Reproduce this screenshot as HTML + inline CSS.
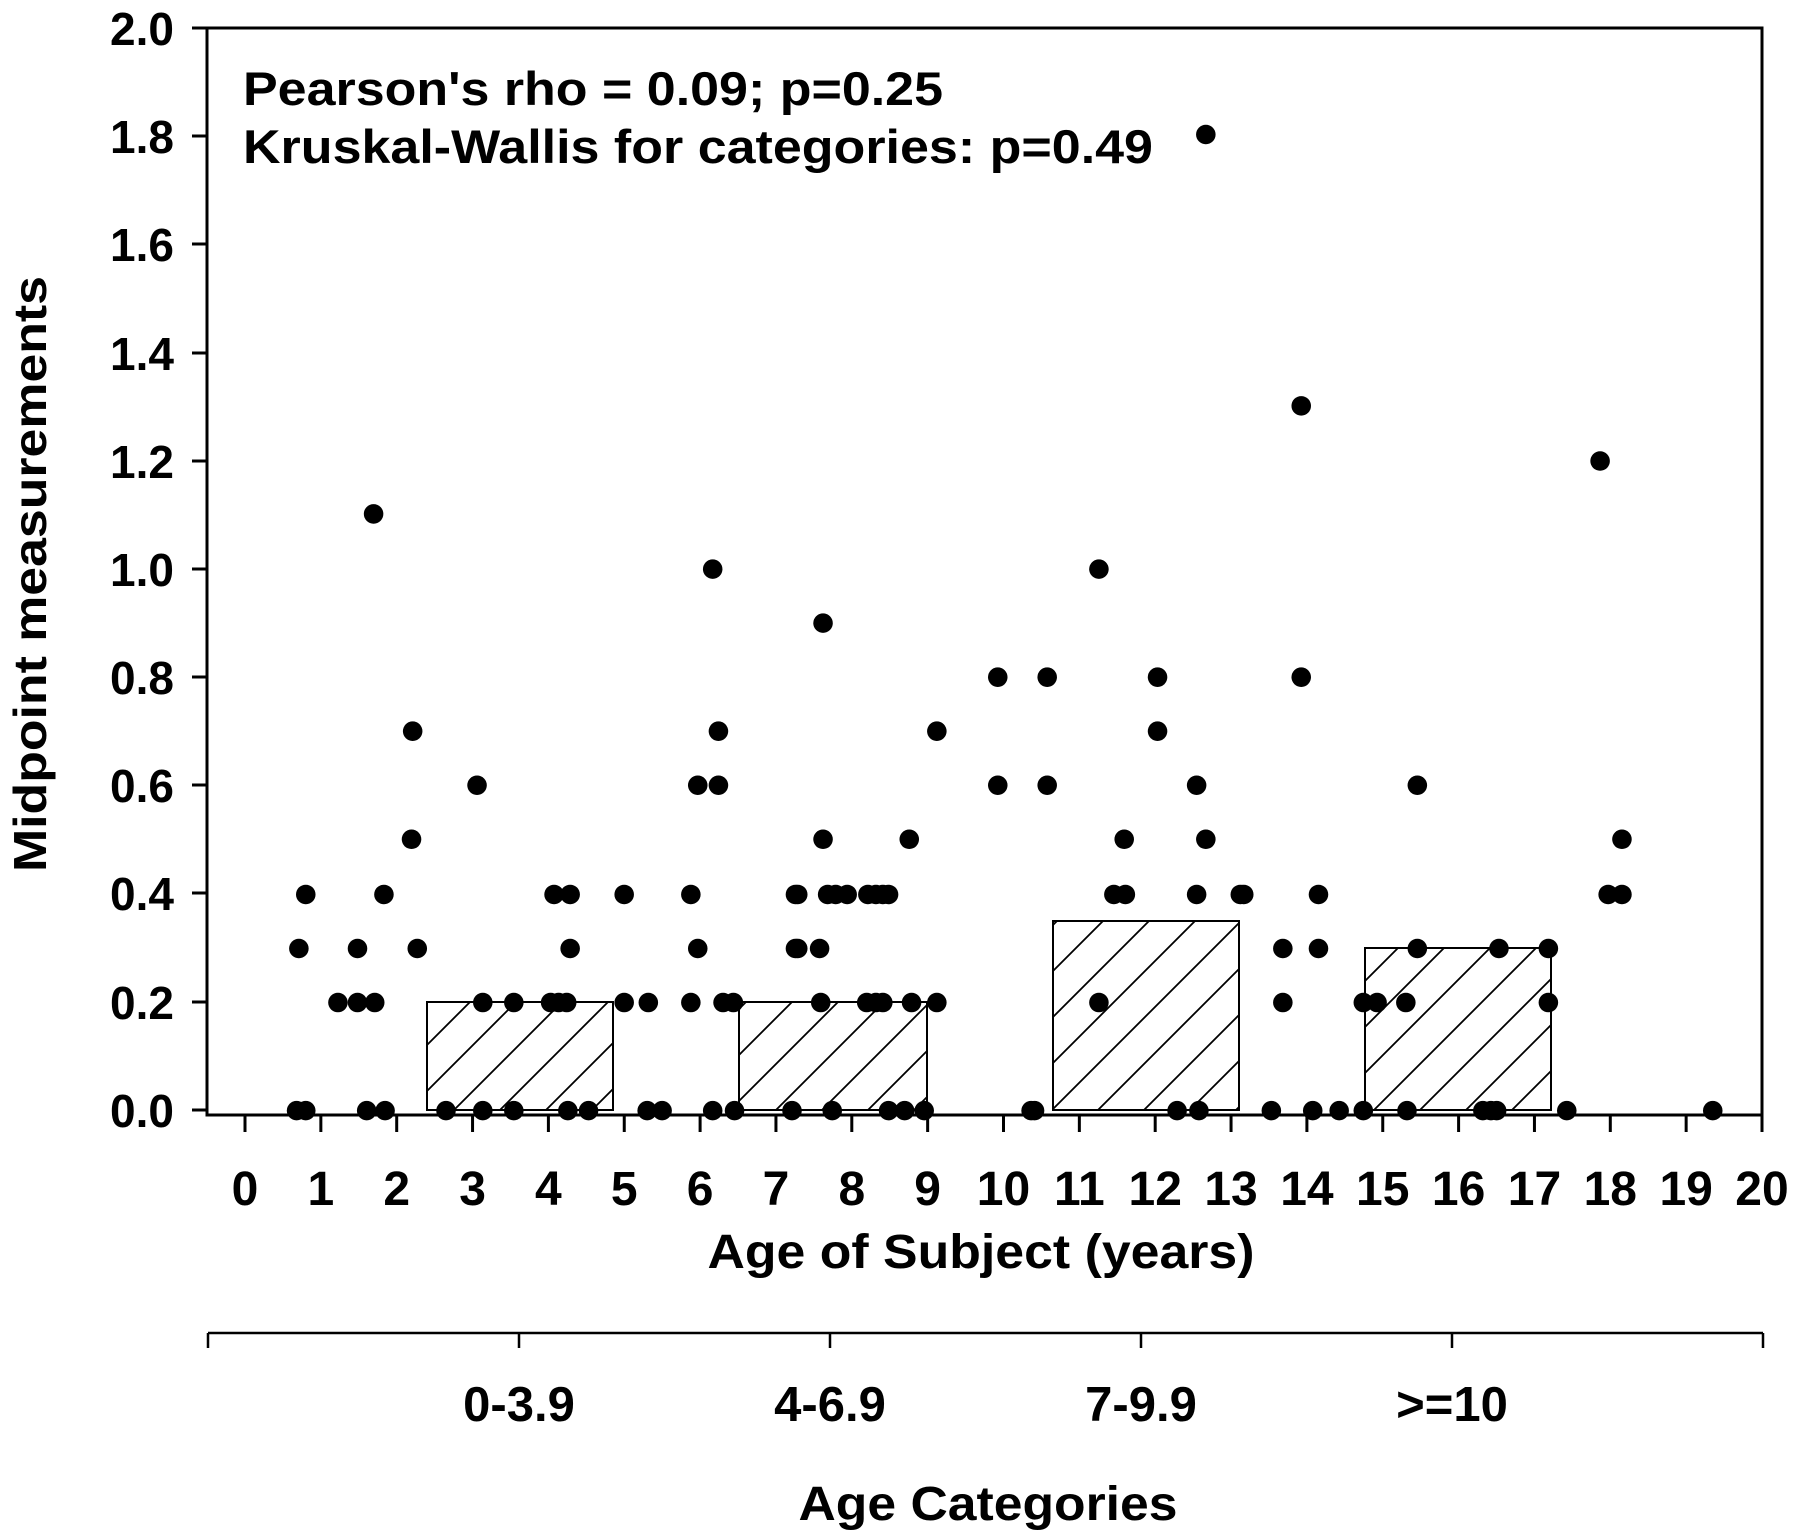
<!DOCTYPE html>
<html><head><meta charset="utf-8"><style>html,body{margin:0;padding:0;background:#fff}svg{display:block}text{font-family:"Liberation Sans",Arial,sans-serif;font-weight:bold;fill:#000}</style></head>
<body>
<svg width="1800" height="1536" viewBox="0 0 1800 1536" xmlns="http://www.w3.org/2000/svg">
<defs>
<pattern id="h" patternUnits="userSpaceOnUse" width="46" height="46">
<path d="M-2,48 L48,-2 M-25,25 L25,-25 M21,71 L71,21" stroke="#000" stroke-width="1.8"/>
</pattern>
</defs>
<g stroke="#000" stroke-width="3" fill="none">
<path d="M207,28 L1762,28 L1762,1115 M207,28 L207,1115 L1762,1115"/>
</g>
<g stroke="#000" stroke-width="3">
<path d="M192,28h15M192,136h15M192,244h15M192,353h15M192,461h15M192,569h15M192,677h15M192,785h15M192,893h15M192,1002h15M192,1110h15"/>
</g>
<g font-size="46" text-anchor="end">
<text x="174" y="45">2.0</text><text x="174" y="153">1.8</text><text x="174" y="261">1.6</text><text x="174" y="370">1.4</text><text x="174" y="478">1.2</text><text x="174" y="586">1.0</text><text x="174" y="694">0.8</text><text x="174" y="802">0.6</text><text x="174" y="910">0.4</text><text x="174" y="1019">0.2</text><text x="174" y="1127">0.0</text>
</g>
<g stroke="#000" stroke-width="3" id="xt"></g>
<g font-size="48" text-anchor="middle" id="xl"></g>
<g stroke="#000" stroke-width="2">
<rect x="427" y="1002" width="186" height="108" fill="#fff"/><rect x="427" y="1002" width="186" height="108" fill="url(#h)"/>
<rect x="739" y="1002" width="188" height="108" fill="#fff"/><rect x="739" y="1002" width="188" height="108" fill="url(#h)"/>
<rect x="1053" y="921" width="186" height="189" fill="#fff"/><rect x="1053" y="921" width="186" height="189" fill="url(#h)"/>
<rect x="1365" y="948" width="186" height="162" fill="#fff"/><rect x="1365" y="948" width="186" height="162" fill="url(#h)"/>
</g>
<g id="dots" transform="scale(1.1495,1.1497)"></g>
<text x="243" y="105" font-size="47" textLength="700" lengthAdjust="spacingAndGlyphs">Pearson's rho = 0.09; p=0.25</text>
<text x="243" y="163" font-size="47" textLength="910" lengthAdjust="spacingAndGlyphs">Kruskal-Wallis for categories: p=0.49</text>
<text x="981" y="1268" font-size="48" text-anchor="middle" textLength="547" lengthAdjust="spacingAndGlyphs">Age of Subject (years)</text>
<text transform="translate(46,574) rotate(-90)" font-size="46" text-anchor="middle" textLength="596" lengthAdjust="spacingAndGlyphs">Midpoint measurements</text>
<g stroke="#000" stroke-width="2.5">
<path d="M208,1333H1763M208,1333v15M519,1333v15M830,1333v15M1141,1333v15M1452,1333v15M1763,1333v15"/>
</g>
<g font-size="49" text-anchor="middle">
<text x="519" y="1421">0-3.9</text><text x="830" y="1421">4-6.9</text><text x="1141" y="1421">7-9.9</text><text x="1452" y="1421">&gt;=10</text>
</g>
<text x="988" y="1520" font-size="48" text-anchor="middle" textLength="379" lengthAdjust="spacingAndGlyphs">Age Categories</text>
<script>
var ns="http://www.w3.org/2000/svg";
var xt=document.getElementById("xt"),xl=document.getElementById("xl");
for(var i=0;i<=20;i++){var x=245+i*75.85;var l=document.createElementNS(ns,"line");l.setAttribute("x1",x);l.setAttribute("x2",x);l.setAttribute("y1",1115);l.setAttribute("y2",1132);xt.appendChild(l);
var t=document.createElementNS(ns,"text");t.setAttribute("x",x);t.setAttribute("y",1205);t.textContent=i;xl.appendChild(t);}
var Y={0:966,0.2:872,0.3:825,0.4:778,0.5:730,0.6:683,0.7:636,0.8:589,0.9:542,1.0:495,1.1:447,1.2:401,1.3:353,1.8:117};
var P=[[0.3,[260]],[0.4,[266]],[0,[258,266]],[0.2,[294]],[0.3,[311]],[0.2,[311,326]],[0,[319,335]],[1.1,[325]],[0.4,[334]],[0.7,[359]],[0.5,[358]],[0.3,[363]],[0.6,[415]],[0.2,[420]],[0,[388,420]],[0.2,[447]],[0,[447]],[0.4,[482,496]],[0.2,[479,486,493]],[0.3,[496]],[0,[494,512]],[0.4,[543]],[0.2,[543,564]],[0,[563,576]],[0.4,[601]],[0.3,[607]],[0.2,[601]],[0.6,[607]],[1.0,[620]],[0.7,[625]],[0.6,[625]],[0.2,[629,638]],[0,[620,639]],[0.4,[692,694]],[0.3,[692,694]],[0,[689]],[0.9,[716]],[0.5,[716]],[0.4,[720,727,737]],[0.3,[713]],[0.2,[714]],[0,[724]],[0.4,[755,762,768,773]],[0.2,[754,762,768]],[0,[773,787,804]],[0.5,[791]],[0.2,[793,815]],[0.7,[815]],[0.8,[868]],[0.6,[868]],[0,[897,900]],[0.8,[911]],[0.6,[911]],[1.0,[956]],[0.2,[956]],[0.4,[969,979]],[0.5,[978]],[0.8,[1007]],[0.7,[1007]],[0.6,[1041]],[0.4,[1041]],[0,[1024,1043]],[0.5,[1049]],[1.8,[1049]],[0.4,[1079,1082]],[0,[1106]],[0.3,[1116]],[0.2,[1116]],[1.3,[1132]],[0.8,[1132]],[0.4,[1147]],[0.3,[1147]],[0,[1142,1165]],[0.2,[1186,1198]],[0,[1186]],[0.6,[1233]],[0.3,[1233]],[0.2,[1223]],[0,[1224]],[0.3,[1304]],[0,[1290,1297,1302]],[0.3,[1347]],[0.2,[1347]],[0,[1363]],[1.2,[1392]],[0.4,[1399,1411]],[0.5,[1411]],[0,[1490]]];
var g=document.getElementById("dots");
P.forEach(function(p){p[1].forEach(function(x){var c=document.createElementNS(ns,"circle");c.setAttribute("cx",x);c.setAttribute("cy",Y[p[0]]);c.setAttribute("r",8.5);g.appendChild(c);});});
</script>
</svg>
</body></html>
